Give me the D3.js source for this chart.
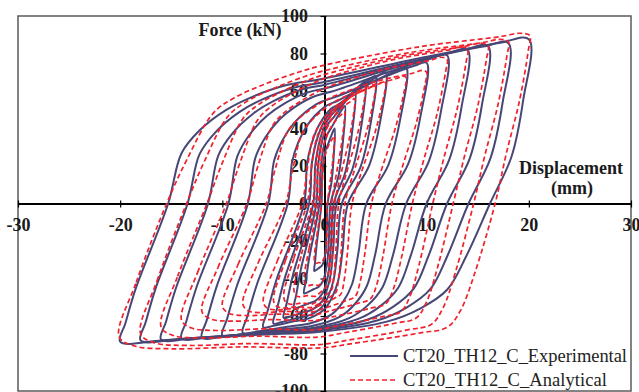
<!DOCTYPE html>
<html>
<head>
<meta charset="utf-8">
<script src="https://cdn.jsdelivr.net/npm/d3@7"></script>
<style>
  body { margin: 0; background: #fff; }
  svg { display: block; }
</style>
</head>
<body>
<svg id="chart" width="639" height="392"></svg>
<script>
// Tick values
const xTicks = [-30, -20, -10, 0, 10, 20, 30];
const yTicks = [-100, -80, -60, -40, -20, 0, 20, 40, 60, 80, 100];

// Experimental cycles: target displacement (mm), peak forces (kN), zero-force crossings (mm)
const expAmp        = [1, 2, 3, 4, 5, 6, 8, 10, 12, 14, 16, 18, 20];
const expPeakPos    = [40, 52, 60, 65, 68, 70, 72.5, 75, 79, 82, 84, 85.5, 87.6];
const expPeakNeg    = [-36, -48, -56, -61, -64, -66, -69, -70.5, -71.5, -72, -72.5, -73, -73.7];
const expZeroUnload = [0.3, 0.6, 0.9, 1.2, 1.7, 2.3, 4.1, 6, 8, 10, 12, 14.1, 16.2];
const expZeroReload = [-0.3, -0.5, -0.8, -1.1, -1.5, -2, -3.6, -5.5, -7.5, -9.4, -11.4, -13.4, -15.3];

// Analytical cycles
const anaAmp        = [1, 2, 3, 4, 5, 6, 8, 10, 12, 14, 16, 18, 20.1];
const anaPeakPos    = [36, 49, 56, 61, 63, 65, 68, 71, 78, 83.5, 85.5, 87.5, 90.8];
const anaPeakNeg    = [-32, -44, -50, -54, -56, -57, -58.5, -60, -63, -68, -72, -76, -77.8];
const anaZeroUnload = [0.3, 0.7, 1, 1.4, 2, 2.7, 4.6, 6.6, 8.6, 10.6, 12.6, 14.6, 16.7];
const anaZeroReload = [-0.3, -0.6, -0.9, -1.2, -1.7, -2.2, -3.8, -5.7, -7.6, -9.6, -11.5, -13.5, -15.45];

// Branch shapes of one cycle, as [fraction along branch, fraction of peak force]
const expShape = {
  reloadStart: [[0, 1], [0.106, 0.87], [0.32, 0.62]],
  reloadRise:  [[0.037, 0.306], [0.088, 0.447], [0.161, 0.57], [0.235, 0.651], [0.329, 0.721],
                [0.422, 0.756], [0.697, 0.884], [0.921, 0.979], [1, 1]],
  unloadDrop:  [[0.145, 0.63], [0.447, 0.285]],
  unloadFall:  [[0.064, 0.38], [0.116, 0.624], [0.189, 0.76], [0.279, 0.855], [0.459, 0.928],
                [0.622, 0.95], [0.875, 0.988]]
};
const anaShape = {
  reloadStart: [[0, 0.913], [0.36, 0.54]],
  reloadRise:  [[0.055, 0.255], [0.128, 0.53], [0.184, 0.618], [0.276, 0.706], [0.367, 0.774],
                [0.423, 0.807], [0.697, 0.921], [0.918, 0.98], [0.972, 1.0], [1, 0.986]],
  unloadDrop:  [[0.044, 0.90], [0.294, 0.608], [0.676, 0.295]],
  unloadFall:  [[0.054, 0.476], [0.092, 0.733], [0.127, 0.848], [0.199, 0.887], [0.377, 0.959],
                [0.463, 0.99], [0.669, 0.983], [0.859, 0.996], [0.959, 0.977]]
};

const seriesNames = ["CT20_TH12_C_Experimental", "CT20_TH12_C_Analytical"];

const svg = d3.select("#chart");
const x = d3.scaleLinear().domain([-30, 30]).range([18, 631]);
const y = d3.scaleLinear().domain([-100, 100]).range([391, 16]);
const font = "'Liberation Serif', 'Times New Roman', serif";

// plot frame
svg.append("rect")
  .attr("x", x(-30)).attr("y", y(100))
  .attr("width", x(30) - x(-30)).attr("height", y(-100) - y(100))
  .attr("fill", "none").attr("stroke", "#5a5a5a").attr("stroke-width", 1.5);

// axes through the origin
const xAxis = svg.append("g")
  .attr("transform", `translate(0,${y(0)})`)
  .call(d3.axisBottom(x).tickValues(xTicks).tickFormat(d => String(d))
    .tickSizeInner(4).tickSizeOuter(0).tickPadding(11));
xAxis.selectAll(".tick line").attr("y1", -3).attr("y2", 4).attr("stroke-width", 1.2);

const yAxis = svg.append("g")
  .attr("transform", `translate(${x(0)},0)`)
  .call(d3.axisLeft(y).tickValues(yTicks).tickFormat(d => String(d))
    .tickSizeInner(4).tickSizeOuter(0).tickPadding(12.5));
yAxis.selectAll(".tick line").attr("x1", -4).attr("x2", 2).attr("stroke-width", 1.2);

[xAxis, yAxis].forEach(g => {
  g.select(".domain").attr("stroke", "#000").attr("stroke-width", 2);
  g.selectAll("text").attr("font-family", font).attr("font-size", 18)
    .attr("font-weight", "bold").attr("fill", "#1a1a1a");
});

// axis titles
const titles = [
  { t: "Force (kN)", x: 240, y: 36 },
  { t: "Displacement", x: 571, y: 174 },
  { t: "(mm)", x: 572, y: 194 }
];
svg.selectAll("text.title").data(titles).enter().append("text")
  .attr("class", "title")
  .attr("x", d => d.x).attr("y", d => d.y)
  .attr("text-anchor", "middle")
  .attr("font-family", font).attr("font-size", 18).attr("font-weight", "bold")
  .attr("fill", "#1a1a1a")
  .text(d => d.t);

// one closed cycle from its peaks, zero crossings and branch shape
function cyclePoints(a, fp, fn, r0, u0, shape) {
  const pts = [];
  shape.reloadStart.forEach(([w, v]) => pts.push([-a + w * (r0 + a), v * fn]));
  pts.push([r0, 0]);
  shape.reloadRise.forEach(([u, v]) => pts.push([r0 + u * (a - r0), v * fp]));
  shape.unloadDrop.forEach(([w, v]) => pts.push([a - w * (a - u0), v * fp]));
  pts.push([u0, 0]);
  shape.unloadFall.forEach(([u, v]) => pts.push([u0 - u * (u0 + a), v * fn]));
  return pts;
}

svg.append("defs").append("clipPath").attr("id", "plotClip")
  .append("rect")
  .attr("x", x(-30)).attr("y", y(100))
  .attr("width", x(30) - x(-30)).attr("height", y(-100) - y(100));

const line = d3.line()
  .x(d => x(d[0])).y(d => y(d[1]))
  .curve(d3.curveCatmullRomClosed.alpha(0.5));

const plot = svg.append("g").attr("clip-path", "url(#plotClip)");

const expCycles = expAmp.map((a, i) =>
  cyclePoints(a, expPeakPos[i], expPeakNeg[i], expZeroReload[i], expZeroUnload[i], expShape));
const anaCycles = anaAmp.map((a, i) =>
  cyclePoints(a, anaPeakPos[i], anaPeakNeg[i], anaZeroReload[i], anaZeroUnload[i], anaShape));

plot.selectAll("path.exp").data(expCycles).enter().append("path")
  .attr("class", "exp")
  .attr("d", line)
  .attr("fill", "none").attr("stroke", "#474777").attr("stroke-width", 2);

plot.selectAll("path.ana").data(anaCycles).enter().append("path")
  .attr("class", "ana")
  .attr("d", line)
  .attr("fill", "none").attr("stroke", "#f0202c").attr("stroke-width", 1.7)
  .attr("stroke-dasharray", "5,3");

// legend
const legend = svg.append("g");
legend.append("rect")
  .attr("x", 344).attr("y", 345).attr("width", 286).attr("height", 45)
  .attr("fill", "#fff");
const legendItems = [
  { name: seriesNames[0], color: "#474777", dash: null, w: 2, y: 356, len: 224 },
  { name: seriesNames[1], color: "#f0202c", dash: "5,3", w: 1.7, y: 380, len: 204 }
];
legendItems.forEach(d => {
  legend.append("line")
    .attr("x1", 350).attr("x2", 398).attr("y1", d.y).attr("y2", d.y)
    .attr("stroke", d.color).attr("stroke-width", d.w)
    .attr("stroke-dasharray", d.dash);
  legend.append("text")
    .attr("x", 403).attr("y", d.y + 6)
    .attr("font-family", font).attr("font-size", 18.5).attr("fill", "#222")
    .attr("textLength", d.len).attr("lengthAdjust", "spacing")
    .text(d.name);
});
</script>
</body>
</html>
